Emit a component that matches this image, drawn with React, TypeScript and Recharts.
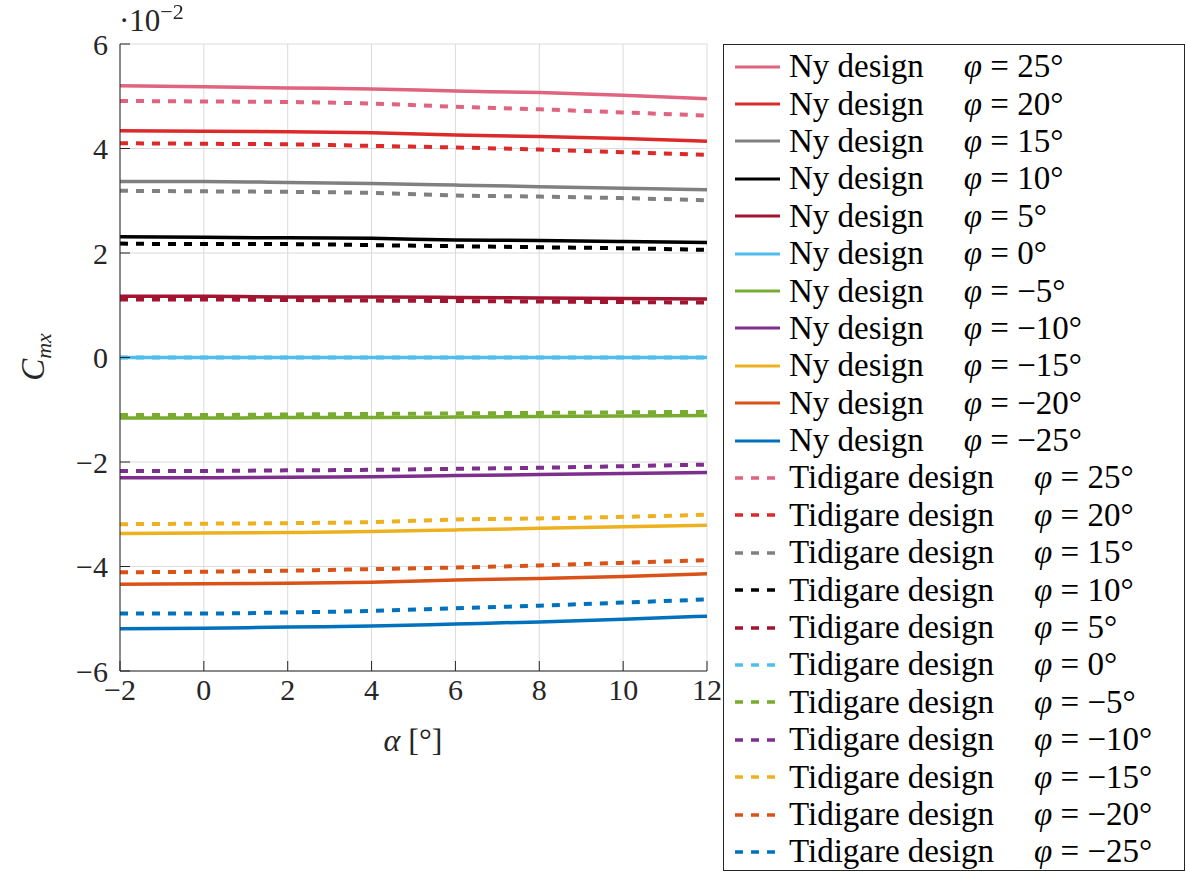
import { CartesianGrid, Line, LineChart, XAxis, YAxis } from "recharts";

// C_mx vs alpha, values in units of 10^-2 (axis carries the ·10^-2 multiplier)
const alpha = [-2, 0, 2, 4, 6, 8, 10, 12];

const nyP25 = [5.2, 5.18, 5.16, 5.14, 5.1, 5.07, 5.02, 4.95];
const nyP20 = [4.34, 4.33, 4.32, 4.3, 4.26, 4.23, 4.19, 4.14];
const nyP15 = [3.37, 3.37, 3.35, 3.33, 3.3, 3.27, 3.24, 3.21];
const nyP10 = [2.31, 2.3, 2.29, 2.28, 2.25, 2.24, 2.22, 2.2];
const nyP5 = [1.17, 1.17, 1.16, 1.16, 1.15, 1.14, 1.13, 1.12];
const nyZero = [0, 0, 0, 0, 0, 0, 0, 0];
const nyM5 = [-1.16, -1.16, -1.15, -1.15, -1.14, -1.13, -1.12, -1.11];
const nyM10 = [-2.3, -2.3, -2.29, -2.28, -2.26, -2.24, -2.22, -2.2];
const nyM15 = [-3.37, -3.36, -3.35, -3.33, -3.3, -3.27, -3.24, -3.21];
const nyM20 = [-4.34, -4.33, -4.32, -4.3, -4.26, -4.23, -4.19, -4.14];
const nyM25 = [-5.19, -5.18, -5.16, -5.14, -5.1, -5.06, -5.01, -4.95];

const tidP25 = [4.91, 4.9, 4.89, 4.86, 4.8, 4.75, 4.69, 4.63];
const tidP20 = [4.1, 4.09, 4.08, 4.05, 4.02, 3.98, 3.93, 3.88];
const tidP15 = [3.19, 3.18, 3.17, 3.15, 3.1, 3.08, 3.05, 3.01];
const tidP10 = [2.18, 2.17, 2.17, 2.15, 2.13, 2.11, 2.09, 2.06];
const tidP5 = [1.11, 1.11, 1.1, 1.09, 1.08, 1.07, 1.06, 1.05];
const tidZero = [0, 0, 0, 0, 0, 0, 0, 0];
const tidM5 = [-1.1, -1.1, -1.09, -1.08, -1.07, -1.06, -1.05, -1.04];
const tidM10 = [-2.17, -2.17, -2.16, -2.15, -2.13, -2.11, -2.08, -2.05];
const tidM15 = [-3.19, -3.18, -3.17, -3.15, -3.1, -3.08, -3.05, -3.01];
const tidM20 = [-4.11, -4.1, -4.08, -4.05, -4.02, -3.98, -3.93, -3.88];
const tidM25 = [-4.9, -4.9, -4.88, -4.85, -4.8, -4.75, -4.69, -4.63];

const phiLabels = ["25°", "20°", "15°", "10°", "5°", "0°", "−5°", "−10°", "−15°", "−20°", "−25°"];
const colors = [
  "#E0637F",
  "#DC2A2A",
  "#808080",
  "#000000",
  "#A2142F",
  "#4DBEEE",
  "#77AC30",
  "#7E2F8E",
  "#EDB120",
  "#D95319",
  "#0072BD",
];
const nySeries = [nyP25, nyP20, nyP15, nyP10, nyP5, nyZero, nyM5, nyM10, nyM15, nyM20, nyM25];
const tidSeries = [tidP25, tidP20, tidP15, tidP10, tidP5, tidZero, tidM5, tidM10, tidM15, tidM20, tidM25];

const xTicks = [-2, 0, 2, 4, 6, 8, 10, 12];
const yTicks = [-6, -4, -2, 0, 2, 4, 6];

const FONT = '"Liberation Serif", "Times New Roman", serif';
const AXIS = "#262626";
const GRID = "#dbdbdb";
const DASH = "8 8";

const W = 1186;
const H = 872;

const rows = alpha.map((a, i) => {
  const row: Record<string, number> = { alpha: a };
  nySeries.forEach((s, k) => (row[`ny${k}`] = s[i]));
  tidSeries.forEach((s, k) => (row[`tid${k}`] = s[i]));
  return row;
});

const legendItems = [
  ...phiLabels.map((p, k) => ({ key: `ny${k}`, name: "Ny design", phi: p, color: colors[k], dashed: false })),
  ...phiLabels.map((p, k) => ({ key: `tid${k}`, name: "Tidigare design", phi: p, color: colors[k], dashed: true })),
];

const fmt = (v: number) => (v < 0 ? `−${Math.abs(v)}` : `${v}`);

export default function App() {
  return (
    <div
      style={{
        position: "fixed",
        left: 0,
        top: 0,
        width: W,
        height: H,
        background: "#fff",
        fontFamily: FONT,
        color: AXIS,
      }}
    >
      <LineChart width={W} height={H} data={rows} margin={{ top: 44, right: W - 707, bottom: 141, left: 20 }}>
        <CartesianGrid stroke={GRID} strokeWidth={1} />
        <XAxis
          dataKey="alpha"
          type="number"
          domain={[-2, 12]}
          ticks={xTicks}
          tickFormatter={fmt}
          height={60}
          tickSize={-10}
          tickMargin={18}
          axisLine={{ stroke: AXIS, strokeWidth: 1 }}
          tickLine={{ stroke: AXIS }}
          tick={{ fill: AXIS, fontSize: 30, fontFamily: FONT }}
        />
        <YAxis
          type="number"
          domain={[-6, 6]}
          ticks={yTicks}
          tickFormatter={fmt}
          width={100}
          tickSize={-10}
          tickMargin={22}
          axisLine={{ stroke: AXIS, strokeWidth: 1 }}
          tickLine={{ stroke: AXIS }}
          tick={{ fill: AXIS, fontSize: 30, fontFamily: FONT }}
        />
        {nySeries.map((_, k) => (
          <Line
            key={`ny${k}`}
            dataKey={`ny${k}`}
            type="monotone"
            stroke={colors[k]}
            strokeWidth={3.5}
            dot={false}
            activeDot={false}
            isAnimationActive={false}
          />
        ))}
        {tidSeries.map((_, k) => (
          <Line
            key={`tid${k}`}
            dataKey={`tid${k}`}
            type="monotone"
            stroke={colors[k]}
            strokeWidth={4}
            strokeDasharray={DASH}
            dot={false}
            activeDot={false}
            isAnimationActive={false}
          />
        ))}
      </LineChart>

      {/* ·10^-2 multiplier */}
      <div style={{ position: "absolute", left: 119, top: 2, fontSize: 31, lineHeight: "38px", whiteSpace: "nowrap" }}>
        ·10<span style={{ fontSize: 22, position: "relative", top: -12 }}>−2</span>
      </div>

      {/* y title */}
      <div
        style={{
          position: "absolute",
          left: 33,
          top: 357,
          transform: "translate(-50%, -50%) rotate(-90deg)",
          fontSize: 33,
          whiteSpace: "nowrap",
        }}
      >
        <i>C</i>
        <i style={{ fontSize: 22, position: "relative", top: 7 }}>mx</i>
      </div>

      {/* x title */}
      <div
        style={{
          position: "absolute",
          left: 413,
          top: 740,
          transform: "translate(-50%, -50%)",
          fontSize: 32,
          whiteSpace: "nowrap",
        }}
      >
        <i>α</i> [°]
      </div>

      {/* legend */}
      <div
        style={{
          position: "absolute",
          left: 723,
          top: 44,
          width: 462,
          height: 827,
          boxSizing: "border-box",
          border: `1px solid ${AXIS}`,
          background: "#fff",
          paddingTop: 3,
          color: "#000",
        }}
      >
        {legendItems.map((it) => (
          <div key={it.key} style={{ height: 37.4, display: "flex", alignItems: "center", fontSize: 33, whiteSpace: "nowrap" }}>
            <svg width={46} height={10} style={{ marginLeft: 11, marginRight: 8, flex: "none" }}>
              <line
                x1={0}
                y1={5}
                x2={it.dashed ? 40 : 45}
                y2={5}
                stroke={it.color}
                strokeWidth={it.dashed ? 3.5 : 3}
                strokeDasharray={it.dashed ? "8 8" : undefined}
              />
            </svg>
            <span>{it.name}</span>
            <span style={{ marginLeft: 40 }}>
              <i>φ</i> = {it.phi}
            </span>
          </div>
        ))}
      </div>
    </div>
  );
}
